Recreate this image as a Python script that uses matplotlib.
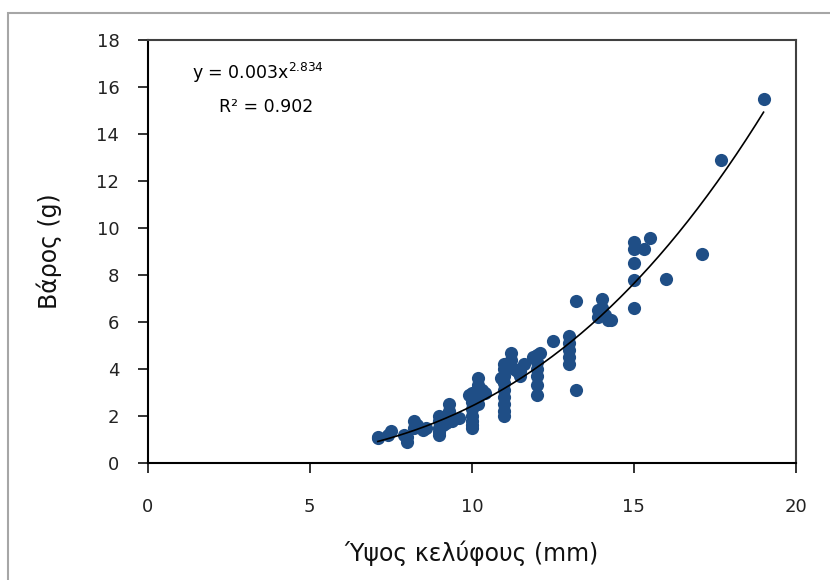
import numpy as np
import matplotlib.pyplot as plt
from matplotlib.patches import Rectangle

plt.rcParams['font.family'] = ['DejaVu Sans']

# shell height (mm) and weight (g)
height_mm = [7.1, 7.1, 7.4, 7.5, 7.9, 8.0, 8.0, 8.2, 8.3, 8.2, 8.5, 8.6,
             9.0, 9.0, 9.0, 9.0, 9.0, 9.1, 9.3, 9.3, 9.4, 9.2, 9.6,
             9.9, 10.0, 10.0, 10.0, 10.0, 10.0, 10.0, 10.0,
             10.2, 10.2, 10.2, 10.3, 10.4, 10.2,
             11.0, 11.0, 11.0, 11.0, 11.0, 11.0, 11.0, 11.0, 11.0, 10.9,
             11.2, 11.2, 11.3, 11.4, 11.5, 11.6, 11.5,
             12.0, 12.0, 12.0, 12.0, 12.0, 12.0, 11.9, 12.1,
             12.5, 13.0, 13.0, 13.0, 13.0, 13.0, 13.2, 13.2,
             13.9, 14.0, 14.0, 14.1, 14.2, 14.3, 13.9,
             15.0, 15.0, 15.0, 15.0, 15.0, 15.3, 15.5,
             16.0, 17.1, 17.7, 19.0]
weight_g = [1.1, 1.05, 1.2, 1.35, 1.2, 0.9, 1.1, 1.8, 1.6, 1.5, 1.4, 1.5,
            2.0, 1.8, 1.5, 1.3, 1.2, 1.6, 2.5, 2.2, 1.8, 1.7, 1.9,
            2.9, 3.0, 2.6, 2.3, 2.0, 1.8, 1.6, 1.5,
            3.6, 3.3, 2.8, 3.1, 3.0, 2.5,
            4.2, 4.0, 3.7, 3.4, 3.1, 2.8, 2.5, 2.2, 2.0, 3.6,
            4.7, 4.4, 4.0, 3.9, 3.7, 4.2, 3.9,
            4.6, 4.3, 4.0, 3.7, 3.3, 2.9, 4.5, 4.7,
            5.2, 5.4, 5.1, 4.8, 4.5, 4.2, 3.1, 6.9,
            6.2, 7.0, 6.6, 6.3, 6.1, 6.1, 6.5,
            9.4, 9.1, 8.5, 7.8, 6.6, 9.1, 9.6,
            7.85, 8.9, 12.9, 15.5]

# power trendline as drawn in the chart
trend_a = 0.00355
trend_b = 2.834

fig = plt.figure(figsize=(8.3, 5.8), dpi=100)
ax = fig.add_axes([0.178, 0.2017, 0.781, 0.729])

# outer chart frame
fig.patches.append(Rectangle((8 / 830, -0.2), 1.2, 0.2 + 1 - 13 / 580,
                             transform=fig.transFigure, fill=False,
                             edgecolor='#a6a6a6', linewidth=1.5))

ax.scatter(height_mm, weight_g, s=90, color='#1F4E86', zorder=2, linewidths=0)

xs = np.linspace(min(height_mm), max(height_mm), 200)
ax.plot(xs, trend_a * xs ** trend_b, color='black', linewidth=1.2, zorder=3)

ax.set_xlim(0, 20)
ax.set_ylim(0, 18)
ax.set_xticks([0, 5, 10, 15, 20])
ax.set_yticks(range(0, 19, 2))
ax.tick_params(direction='out', length=7.5, width=1.3, labelsize=13,
               colors='#222222')
ax.tick_params(axis='y', pad=13)
ax.tick_params(axis='x', pad=18)
for s in ax.spines.values():
    s.set_linewidth(1.5)
ax.spines['top'].set_color('#404040')
ax.spines['right'].set_color('#404040')

ax.set_xlabel('Ύψος κελύφους (mm)', fontsize=17, labelpad=17, color='#111111')
ax.set_ylabel('Βάρος (g)', fontsize=17, labelpad=25, color='#111111')

ax.text(0.170, 0.922, r'y = 0.003x$^{\mathregular{2.834}}$', transform=ax.transAxes,
        ha='center', va='center', fontsize=12.5)
ax.text(0.183, 0.842, 'R² = 0.902', transform=ax.transAxes,
        ha='center', va='center', fontsize=12.5)

fig.savefig('out.png', dpi=100)
